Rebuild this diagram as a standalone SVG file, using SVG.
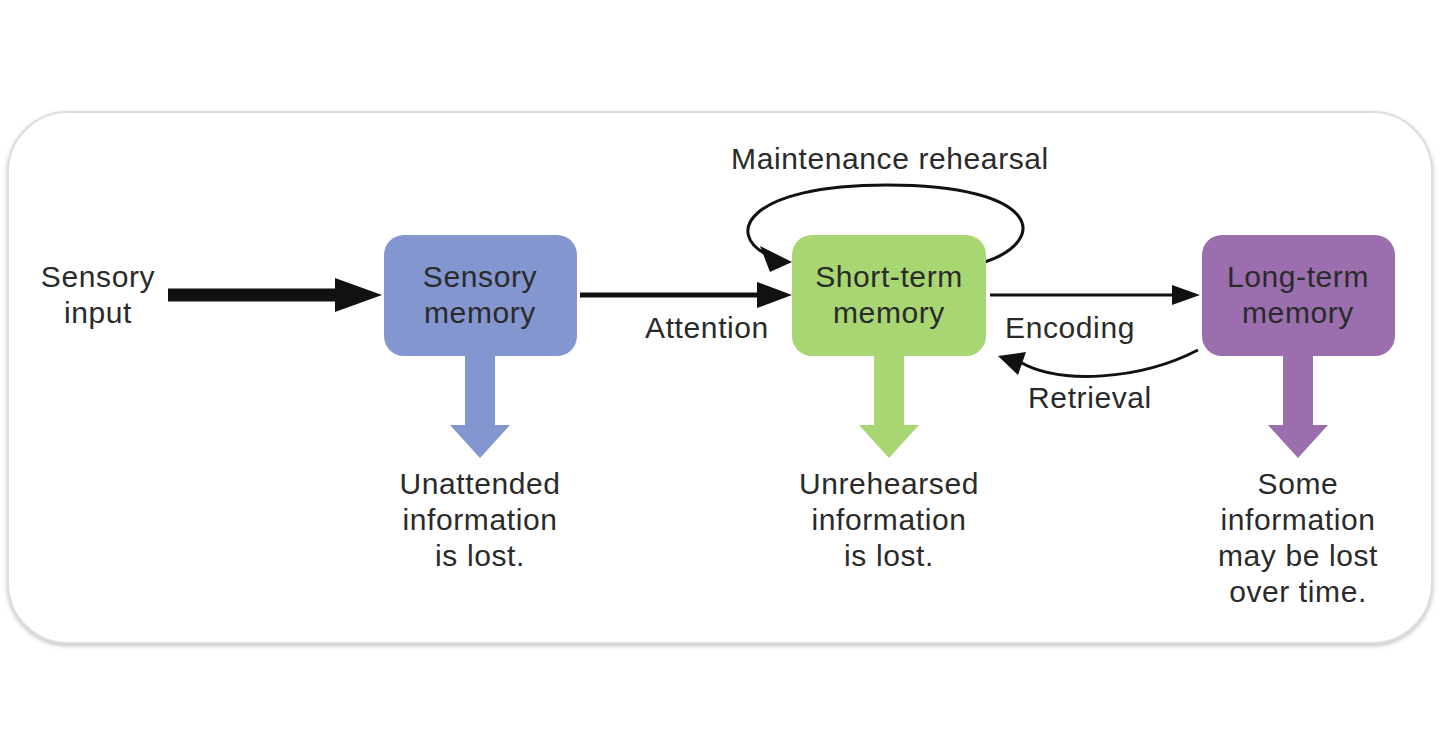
<svg xmlns="http://www.w3.org/2000/svg" width="1440" height="749" viewBox="0 0 1440 749">
<style>
text{font-family:"Liberation Sans",Arial,sans-serif;font-size:30px;letter-spacing:0.6px;fill:#2a2a2a;text-anchor:middle}
.c{fill:none;stroke:#111}
</style>
<defs>
<filter id="sh"><feDropShadow dx="0" dy="2" stdDeviation="2" flood-color="#999" flood-opacity="0.6"/></filter>
</defs>
<rect x="8" y="112" width="1424" height="531" rx="60" fill="#fff" stroke="#ddd" stroke-width="2" filter="url(#sh)"/>
<g id="connectors">
<path d="M168,295 H338" stroke="#111" stroke-width="13"/>
<path d="M335,278 L382,295 L335,312 Z" fill="#111"/>
<path d="M580,295 H760" stroke="#111" stroke-width="5"/>
<path d="M757,282 L792,295 L757,308 Z" fill="#111"/>
<path d="M990,295 H1175" stroke="#111" stroke-width="3"/>
<path d="M1172,285 L1200,295 L1172,305 Z" fill="#111"/>
<path d="M1198,350 C1140,380 1060,385 1020,362" class="c" stroke-width="3"/>
<path d="M1026,352 L998,356 L1018,375 Z" fill="#111"/>
<path d="M985,262 C1050,240 1040,185 887,185 C745,185 725,235 768,255" class="c" stroke-width="3"/>
<path d="M760,246 L792,262 L770,272 Z" fill="#111"/>
<path d="M465,355 V425 H450 L480,458 L510,425 H495 V355 Z" fill="#8496cf"/>
<path d="M874,355 V425 H859 L889,458 L919,425 H904 V355 Z" fill="#a8d672"/>
<path d="M1283,355 V425 H1268 L1298,458 L1328,425 H1313 V355 Z" fill="#9b6fae"/>
</g>
<g id="sensory"><rect x="384" y="235" width="193" height="121" rx="20" fill="#8496cf"/><text x="480" y="287">Sensory</text><text x="480" y="323">memory</text></g>
<g id="stm"><rect x="792" y="235" width="194" height="121" rx="20" fill="#a8d672"/><text x="889" y="287">Short-term</text><text x="889" y="323">memory</text></g>
<g id="ltm"><rect x="1202" y="235" width="193" height="121" rx="20" fill="#9b6fae"/><text x="1298" y="287">Long-term</text><text x="1298" y="323">memory</text></g>
<g id="labels">
<text x="98" y="287">Sensory</text><text x="98" y="323">input</text>
<text x="707" y="338">Attention</text>
<text x="1070" y="338">Encoding</text>
<text x="1090" y="408">Retrieval</text>
<text x="890" y="169">Maintenance rehearsal</text>
<text x="480" y="494">Unattended</text><text x="480" y="530">information</text><text x="480" y="566">is lost.</text>
<text x="889" y="494">Unrehearsed</text><text x="889" y="530">information</text><text x="889" y="566">is lost.</text>
<text x="1298" y="494">Some</text><text x="1298" y="530">information</text><text x="1298" y="566">may be lost</text><text x="1298" y="602">over time.</text>
</g>
</svg>
